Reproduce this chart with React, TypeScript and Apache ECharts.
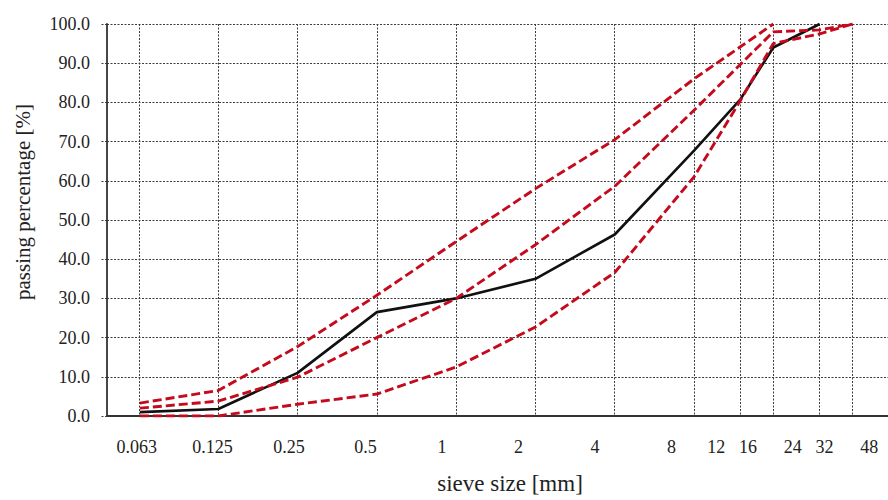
import React, { useEffect, useRef } from "react";
import * as echarts from "echarts";

// sieve sizes [mm] at which the curves are read
const sieveSizes = [0.063, 0.125, 0.25, 0.5, 1, 2, 4, 8, 12, 16, 24, 32];
// passing percentage [%]
const mixture = [1.0, 1.8, 11.0, 26.5, 30.0, 35.0, 46.3, 67.7, 80.8, 94.0, 100, null];
const upperLimit = [3.3, 6.5, 17.7, 30.8, 44.5, 58.0, 70.5, 86.0, null, 100, null, null];
const middleCurve = [2.0, 3.8, 9.9, 20.0, 30.0, 43.7, 58.6, 78.0, null, 98.0, 98.5, 100];
const lowerLimit = [0, 0, 3.0, 5.6, 12.5, 22.7, 36.6, 61.0, 80.5, 95.0, 97.5, 100];

// vertical grid lines
const gridSizes = [0.0625, 0.125, 0.25, 0.5, 1, 2, 4, 8, 12, 16, 24, 32];
// x tick labels
const labelValues = [0.063, 0.125, 0.25, 0.5, 1, 2, 4, 8, 12, 16, 24, 32, 48];
const tickLabels = ["0.063", "0.125", "0.25", "0.5", "1", "2", "4", "8", "12", "16", "24", "32", "48"];

const SERIF = "'Liberation Serif', 'Times New Roman', serif";
const RED = "#c40a1c";
const GRID_COLOR = "#3c3c3c";

function pairs(values: (number | null)[]) {
  const out: [number, number][] = [];
  values.forEach((v, i) => {
    if (v !== null) out.push([sieveSizes[i], v]);
  });
  return out;
}

export default function App() {
  const ref = useRef<HTMLDivElement>(null);
  useEffect(() => {
    if (!ref.current) return;
    const chart = echarts.init(ref.current, null, { renderer: "svg" });
    const redSeries = (name: string, values: (number | null)[]) => ({
      name,
      type: "line",
      xAxisIndex: 0,
      yAxisIndex: 0,
      data: pairs(values),
      symbol: "none",
      lineStyle: { color: RED, width: 2.9, type: [9, 4] },
      z: 3,
    });
    chart.setOption({
      animation: false,
      backgroundColor: "#fff",
      grid: { left: 107, right: 0, top: 24, bottom: 80 },
      xAxis: [
        {
          type: "log",
          logBase: 2,
          min: 0.04726,
          max: 43.6,
          position: "bottom",
          axisLine: { show: true, onZero: false, lineStyle: { color: "#333", width: 1.8 } },
          axisTick: { show: false, customValues: gridSizes },
          axisLabel: { show: false },
          splitLine: { show: true, lineStyle: { color: GRID_COLOR, width: 1, type: [2, 1.5] } },
          minorSplitLine: { show: false },
        },
        {
          type: "log",
          logBase: 2,
          min: 0.0481,
          max: 56.9,
          position: "bottom",
          name: "sieve size [mm]",
          nameLocation: "middle",
          nameGap: 56,
          nameTextStyle: { fontFamily: SERIF, fontSize: 23, color: "#222", padding: [0, 0, 0, 25] },
          axisLine: { show: false },
          axisTick: { show: false, customValues: labelValues },
          splitLine: { show: false },
          axisLabel: {
            show: true,
            customValues: labelValues,
            margin: 22,
            fontFamily: SERIF,
            fontSize: 18,
            color: "#222",
            showMinLabel: true,
            showMaxLabel: true,
            hideOverlap: false,
            formatter: (v: number) => {
              const i = labelValues.findIndex((x) => Math.abs(x - v) / x < 1e-3);
              return i >= 0 ? tickLabels[i] : "";
            },
          },
        },
      ],
      yAxis: {
        type: "value",
        min: 0,
        max: 100,
        interval: 10,
        name: "passing percentage [%]",
        nameLocation: "middle",
        nameGap: 74,
        nameTextStyle: { fontFamily: SERIF, fontSize: 21, color: "#222", padding: [0, 0, 0, 36] },
        axisLine: { show: true, lineStyle: { color: "#333", width: 1.8 } },
        axisTick: { show: true, length: 6, lineStyle: { color: GRID_COLOR, type: [2, 1.5] } },
        axisLabel: {
          margin: 17,
          fontFamily: SERIF,
          fontSize: 18,
          color: "#222",
          formatter: (v: number) => v.toFixed(1),
        },
        splitLine: { show: true, lineStyle: { color: GRID_COLOR, width: 1, type: [2, 1.5] } },
      },
      series: [
        {
          name: "mixture",
          type: "line",
          xAxisIndex: 0,
          yAxisIndex: 0,
          data: pairs(mixture),
          symbol: "none",
          lineStyle: { color: "#111", width: 2.6 },
          z: 2,
        },
        redSeries("upper limit", upperLimit),
        redSeries("middle curve", middleCurve),
        redSeries("lower limit", lowerLimit),
      ],
    });
    return () => chart.dispose();
  }, []);
  return (
    <div
      ref={ref}
      style={{ position: "fixed", left: 0, top: 0, width: 888, height: 500, background: "#fff" }}
    />
  );
}
